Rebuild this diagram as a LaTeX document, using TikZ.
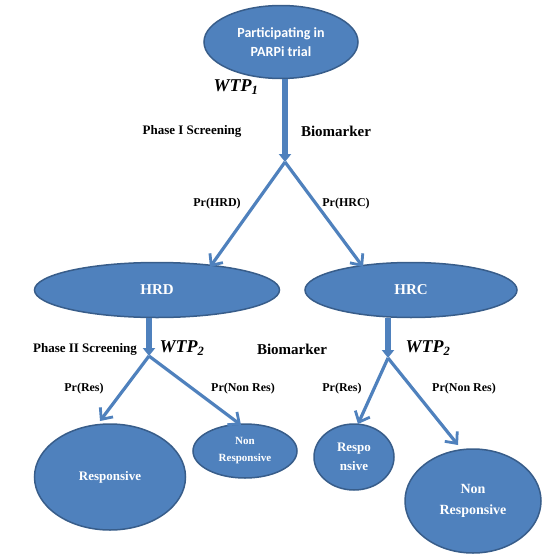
\documentclass[tikz,border=0pt]{standalone}
\usepackage{fontspec}
\setmainfont{Liberation Serif}
\newfontfamily\calib{Carlito}
\usetikzlibrary{arrows.meta,shapes.geometric}
\definecolor{fillb}{HTML}{4F81BD}
\definecolor{edgeb}{HTML}{385D8A}
\tikzset{
  ell/.style={ellipse,draw=edgeb,line width=1.5pt,fill=fillb,text=white,inner sep=0pt,font=\bfseries,align=center},
  thinarr/.style={draw=fillb,line width=3.2pt,-{Straight Barb[length=9pt,width=16pt,line width=2.8pt]}},
  thickarr/.style={draw=fillb,line width=6pt,-{Triangle[length=8pt,width=12pt]}},
  lbl/.style={font=\bfseries\fontsize{12}{13}\selectfont,inner sep=0pt},
  wtp/.style={font=\bfseries\itshape\fontsize{18}{20}\selectfont,inner sep=0pt},
}
\begin{document}
\begin{tikzpicture}[x=1pt,y=-1pt]
\useasboundingbox (0,0) rectangle (553,554);
% ellipses
\node[ell,minimum width=154pt,minimum height=73pt,font=\calib\bfseries\fontsize{14}{19}\selectfont] (top) at (281,42) {Participating in\\PARPi trial};
\node[ell,minimum width=245pt,minimum height=55pt,font=\bfseries\fontsize{15}{17}\selectfont] (hrd) at (157,290) {HRD};
\node[ell,minimum width=212pt,minimum height=55pt,font=\bfseries\fontsize{15}{17}\selectfont] (hrc) at (411,290) {HRC};
\node[ell,minimum width=151pt,minimum height=106pt,font=\bfseries\fontsize{13}{15}\selectfont] (res1) at (110,477) {Responsive};
\node[ell,minimum width=104pt,minimum height=54pt,font=\bfseries\fontsize{11}{17}\selectfont] (non1) at (245,451) {Non\\Responsive};
\node[ell,minimum width=80pt,minimum height=66pt,font=\bfseries\fontsize{13}{19}\selectfont] (res2) at (354,457) {Respo\\nsive};
\node[ell,minimum width=136pt,minimum height=104pt,font=\bfseries\fontsize{14}{21}\selectfont] (non2) at (473,501) {Non\\Responsive};
% split points and tips
\coordinate (s1) at (285,162);
\coordinate (s2) at (149,356);
\coordinate (s3) at (388,358);
\coordinate (t1) at (210,267);
\coordinate (t2) at (363,267);
\coordinate (t3) at (100,421);
\coordinate (t4) at (241,425);
\coordinate (t5) at (358,424);
\coordinate (t6) at (458,445);
% thick arrows
\draw[thickarr] (top.south -| s1) -- (s1);
\draw[thickarr] (hrd.south -| s2) -- (s2);
\draw[thickarr] (hrc.south -| s3) -- (s3);
% thin arrows
\draw[thinarr] (s1) -- (t1);
\draw[thinarr] (s1) -- (t2);
\draw[thinarr] (s2) -- (t3);
\draw[thinarr] (s2) -- (t4);
\draw[thinarr] (s3) -- (t5);
\draw[thinarr] (s3) -- (t6);
% labels
\node[wtp] (w1) at (236,87) {WTP\textsubscript{1}};
\node[lbl,font=\bfseries\fontsize{13}{14}\selectfont] (p1) at (192,131) {Phase I Screening};
\node[lbl,font=\bfseries\fontsize{15}{16}\selectfont] (b1) at (336,131) {Biomarker};
\node[lbl] (prhrd) at (217,204) {Pr(HRD)};
\node[lbl] (prhrc) at (346,204) {Pr(HRC)};
\node[lbl,font=\bfseries\fontsize{13}{14}\selectfont] (p2) at (85,349) {Phase II Screening};
\node[wtp] (w2) at (182,348) {WTP\textsubscript{2}};
\node[lbl,font=\bfseries\fontsize{15}{16}\selectfont] (b2) at (292,349) {Biomarker};
\node[wtp] (w3) at (428,348) {WTP\textsubscript{2}};
\node[lbl] (pr1) at (84,389) {Pr(Res)};
\node[lbl] (pr2) at (243,389) {Pr(Non Res)};
\node[lbl] (pr3) at (342,389) {Pr(Res)};
\node[lbl] (pr4) at (464,389) {Pr(Non Res)};
\end{tikzpicture}
\end{document}
